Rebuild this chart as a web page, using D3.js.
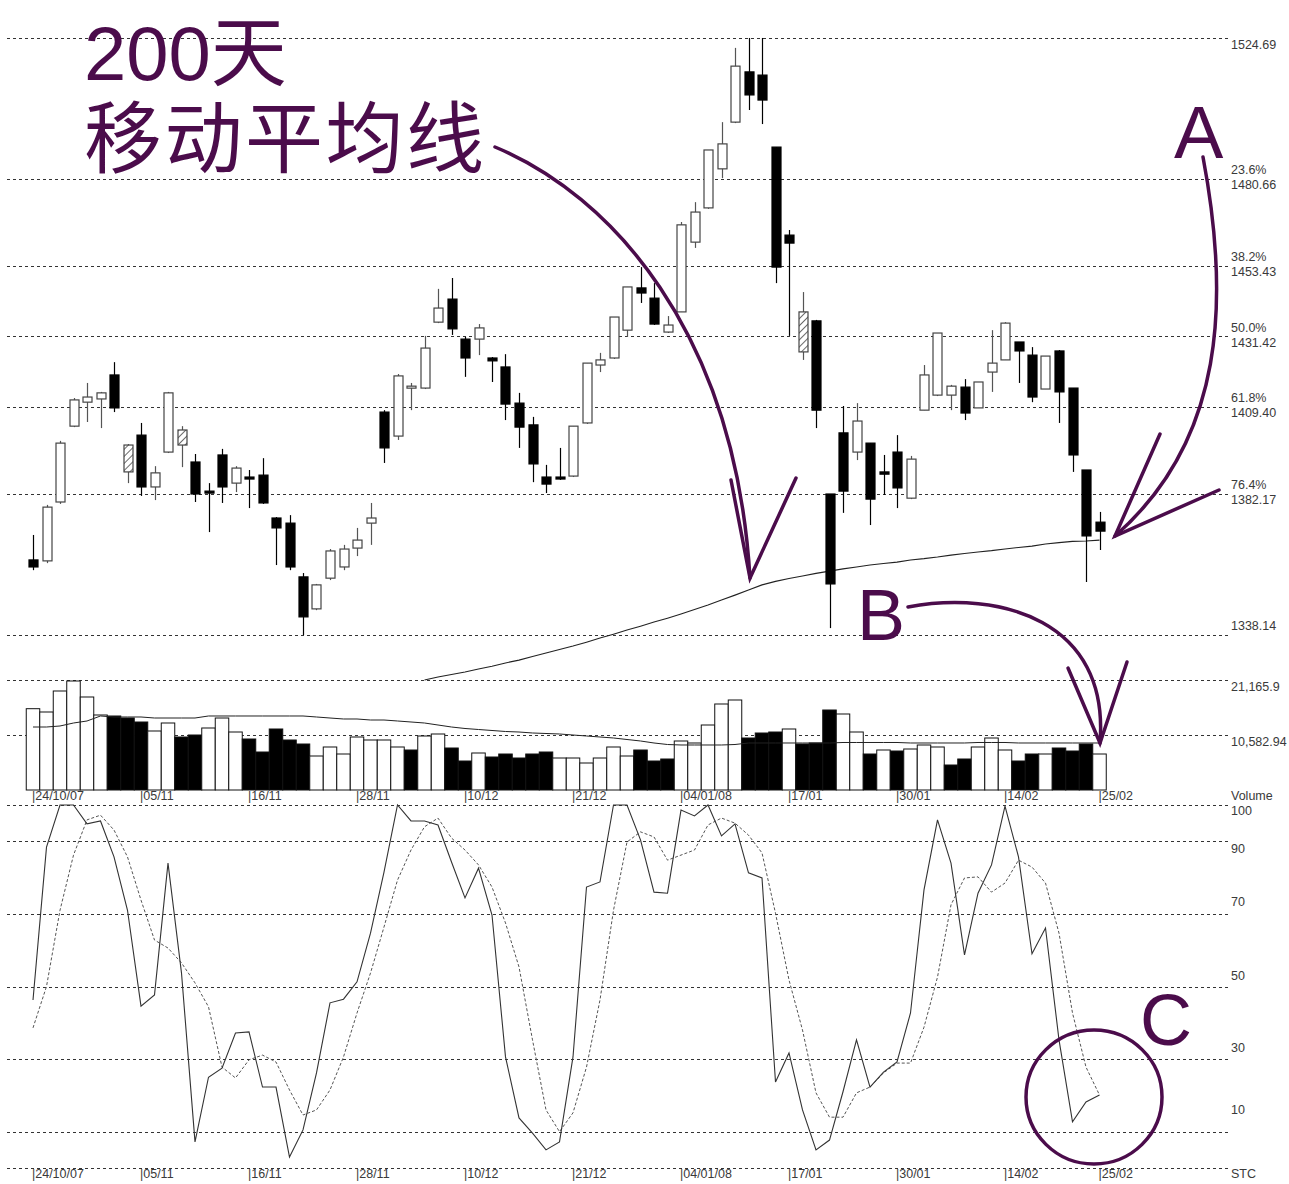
<!DOCTYPE html>
<html><head><meta charset="utf-8">
<script src="https://cdn.jsdelivr.net/npm/d3@7"></script>
<style>body{margin:0;background:#fff}svg{display:block}</style>
</head><body><svg id="c" width="1289" height="1184"></svg>
<script>
// ---------- DATA ----------
const opens = [1361.6,1361.3,1379.7,1403.4,1410.9,1411.9,1419.4,1389.1,1400.6,1384.4,
1395.3,1397.5,1392.2,1383.1,1394.4,1385.6,1387.5,1388.1,1374.7,1373.1,
1356.3,1346.3,1355.9,1359.4,1365.3,1373.1,1407.8,1400.3,1415.3,1415.3,
1435.9,1443.1,1430.6,1430.6,1424.7,1421.9,1410.6,1403.8,1387.5,1387.5,
1387.8,1404.4,1422.5,1424.7,1433.4,1446.6,1443.4,1432.8,1439.1,1460.9,
1471.6,1483.8,1498.4,1514.1,1513.1,1490.6,1463.1,1426.6,1436.3,1382.2,
1401.3,1395.3,1398.1,1389.1,1395.3,1380.9,1408.4,1413.1,1413.1,1415.6,
1409.1,1420.3,1424.1,1429.7,1425.6,1415.0,1426.9,1415.3,1389.7,1373.4];
const highs = [1369.4,1378.8,1398.8,1412.2,1416.9,1414.1,1423.4,1397.8,1404.4,1390.9,
1414.1,1403.4,1394.7,1385.6,1396.3,1390.9,1389.7,1393.4,1375.0,1375.6,
1357.5,1354.1,1365.0,1366.3,1371.6,1379.4,1408.4,1419.7,1416.9,1431.6,
1446.3,1449.7,1431.3,1435.3,1425.0,1425.9,1413.8,1406.3,1391.3,1396.6,
1403.4,1423.1,1426.3,1437.5,1446.9,1453.1,1448.1,1437.8,1467.2,1473.4,
1489.7,1498.4,1521.6,1524.7,1524.7,1490.6,1464.7,1445.3,1436.6,1382.2,
1409.7,1410.6,1398.1,1394.4,1400.6,1394.1,1422.5,1432.5,1416.3,1418.1,
1417.2,1433.4,1435.9,1429.7,1428.1,1425.3,1427.2,1415.3,1389.7,1376.6];
const lows = [1358.4,1360.6,1379.1,1403.1,1404.7,1402.8,1407.8,1385.6,1381.6,1380.3,
1395.0,1390.6,1379.7,1370.3,1379.4,1382.8,1377.8,1379.1,1360.0,1358.4,
1338.1,1345.9,1355.3,1358.4,1362.8,1366.3,1391.9,1399.1,1408.4,1415.0,
1435.6,1431.9,1418.8,1425.6,1417.2,1405.3,1396.6,1385.9,1382.5,1386.6,
1387.5,1404.1,1420.3,1424.4,1431.3,1441.9,1435.0,1432.5,1439.1,1459.1,
1471.3,1480.9,1498.1,1502.2,1497.8,1448.1,1431.6,1424.1,1402.8,1340.3,
1376.3,1392.8,1372.5,1381.9,1377.8,1380.6,1408.4,1412.8,1408.4,1405.3,
1409.1,1414.1,1424.1,1416.9,1410.9,1415.0,1404.4,1389.1,1354.7,1364.7];
const closes = [1359.4,1378.1,1398.1,1411.6,1412.5,1413.8,1409.1,1397.5,1384.4,1388.8,
1413.8,1402.2,1382.2,1382.5,1384.4,1390.3,1386.9,1379.4,1371.6,1359.4,
1343.8,1353.8,1364.4,1365.0,1367.8,1374.7,1396.6,1419.1,1415.9,1427.8,
1440.3,1433.8,1424.7,1434.1,1423.8,1410.3,1403.1,1391.6,1385.3,1386.9,
1403.4,1423.1,1424.1,1437.5,1446.9,1445.0,1435.3,1435.0,1466.3,1470.3,
1489.7,1491.6,1515.9,1506.9,1505.3,1453.1,1460.6,1439.1,1408.4,1354.1,
1383.1,1405.0,1380.6,1388.4,1384.1,1393.1,1419.4,1432.5,1415.9,1407.5,
1417.2,1423.1,1435.6,1426.9,1412.5,1425.3,1414.1,1394.4,1369.1,1370.6];
const hatchedBars = [7, 11, 57];

const ma200Start = 29;
const ma200 = [1324.1,1325.0,1325.8,1326.6,1327.5,1328.4,1329.4,1330.3,1331.4,1332.5,
1333.6,1334.7,1335.9,1337.2,1338.4,1339.7,1340.9,1342.2,1343.4,1344.7,
1346.1,1347.5,1349.1,1350.6,1352.2,1353.8,1354.9,1355.8,1356.6,1357.4,
1358.1,1358.8,1359.4,1360.0,1360.5,1360.9,1361.6,1362.0,1362.5,1363.1,
1363.6,1364.1,1364.5,1365.0,1365.5,1365.9,1366.6,1367.0,1367.4,1367.5,1367.8];

const volumes = [15644,15009,19050,20974,17895,14432,14239,13854,13085,11353,
12892,10198,10583,11930,13854,11160,9813,7312,11738,9621,
8851,6542,8274,6927,10198,9621,9621,8274,7697,10391,
10776,8082,5580,7120,6350,6927,6157,6927,7312,6157,
6157,5195,6157,8274,6542,7697,5580,5965,9429,9044,
12507,16548,17318,10006,10968,11160,11738,8851,9044,15394,
14624,11160,6927,7697,7504,7889,8659,8274,4811,5965,
8274,10006,7697,5580,6927,6927,8082,7504,8851,6927];
const volUp = [1,1,1,1,1,1,0,0,0,1, 1,0,0,1,1,1,0,0,0,0, 0,1,1,1,1,1,1,1,0,1,
1,0,0,1,0,0,0,0,0,1, 1,1,1,1,1,0,0,0,1,1, 1,1,1,0,0,0,1,0,0,0,
1,1,0,1,0,1,1,1,0,0, 1,1,1,0,0,1,0,0,0,1];
const volMA = [12122,12122,12315,12892,13277,14239,14047,14047,14047,13854,
13854,13854,13854,14239,14239,14239,14239,14239,14239,14239,
14239,14047,13854,13662,13662,13469,13469,13277,13085,12892,
12507,12122,11834,11641,11449,11257,11160,10968,10872,10776,
10583,10391,10198,10006,9717,9429,9044,8755,8659,8659,
8659,8659,8755,9044,9044,9044,9044,9044,9044,9044,
9140,9140,9140,9140,9140,9044,9044,9044,9044,9044,
9140,9140,9140,9044,9044,9044,9044,9044,9044,9044];

const stcK = [46.3,88.4,100,100,94.8,95.6,85.7,71,44.6,47.7,
84,53.7,7.2,25,27.5,37.2,37.5,22.3,22.3,3,
10.5,26.2,45.5,46.5,51.3,64.7,81.5,100,95.6,95.6,
94.5,84.3,74.4,82.6,69.7,30.6,13.8,9.6,5,7.2,
30.6,77.4,78.8,100,100,90.4,76,75.7,98.6,97,
100,91.5,94.8,81.3,79.9,23.7,31.7,16,5,7.7,
21,35.3,22.3,26.4,29.2,42.7,76.6,95.9,84,58.7,
75.7,83.5,99.7,85.7,59,66.1,35.3,12.7,18.2,20.1];
const stcD = [38.6,50,71,86.2,95.9,97.2,93.1,85.7,73.8,62.8,
60.6,56.5,51,44.4,27.8,24.8,29.8,31.1,29.2,21.5,
14.6,16,21.5,30.6,42.7,53.7,66.4,79.3,87.6,94,
96.4,90.9,87.6,83.5,77.4,67.5,55.4,35.3,16,10,
15.2,27.8,46.3,71,89.8,92.6,91.2,84.8,86.2,87.6,
94.5,96.4,95,91.7,86.8,70.2,51.8,38,20.7,14,
14,20.7,22.3,26.2,28.9,28.9,38.8,52.6,72.5,79.9,
80.2,76,78.5,84.8,82.9,78.5,64.7,42.7,27.8,20.1];

const dateTickIdx = [0,8,16,24,32,40,48,56,64,72,79];
const dateTickLabels = ["24/10/07","05/11","16/11","28/11","10/12","21/12","04/01/08","17/01","30/01","14/02","25/02"];
const priceLevels = [1524.69,1480.66,1453.43,1431.42,1409.40,1382.17,1338.14];
const fibLabels = ["","23.6%","38.2%","50.0%","61.8%","76.4%",""];
const volTicks = [21165.9,10582.94];
const volTickLabels = ["21,165.9","10,582.94"];
const stcTicks = [100,90,70,50,30,10,0];
const stcTickLabels = ["100","90","70","50","30","10",""];
const titleLines = ["200天","移动平均线"];

// ---------- DRAW ----------
const svg = d3.select('#c');
const n = closes.length;
const x = d3.scaleLinear().domain([0, n-1]).range([33, 1099.5]);
const yP = d3.scaleLinear().domain([1338.14, 1524.69]).range([635, 38]);
const yV = d3.scaleLinear().domain([0, 21165.9]).range([790, 680]);
const yS = d3.scaleLinear().domain([0, 100]).range([1168, 805]);
const slot = x(1) - x(0);
const GX0 = 7, GX1 = 1228, LX = 1231;
const txtFont = '"Liberation Sans", Arial, sans-serif';
const purple = '#4b0c4b';

const defs = svg.append('defs');
const pat = defs.append('pattern').attr('id','hatch').attr('patternUnits','userSpaceOnUse')
  .attr('width',5).attr('height',5).attr('patternTransform','rotate(45)');
pat.append('rect').attr('width',5).attr('height',5).attr('fill','#fff');
pat.append('line').attr('x1',0).attr('y1',0).attr('x2',0).attr('y2',5).attr('stroke','#444').attr('stroke-width',1.6);

const grid = svg.append('g');
function hline(y){
  const yy = Math.round(y) + 0.5;
  grid.append('line').attr('x1',GX0).attr('x2',GX1).attr('y1',yy).attr('y2',yy)
    .attr('stroke','#333').attr('stroke-width',1).attr('stroke-dasharray','3,3');
}
const labels = svg.append('g').attr('font-family',txtFont).attr('font-size',12.5).attr('fill','#3a3a3a');
function label(t, xx, y){
  labels.append('text').attr('x',xx).attr('y',y).attr('dominant-baseline','middle').text(t);
}

// price grid + labels
const fmt2 = d3.format('.2f');
priceLevels.forEach((v,i)=>{
  const y = yP(v);
  hline(y);
  if (fibLabels[i]) { label(fibLabels[i], LX, y-8); label(fmt2(v), LX, y+7); }
  else if (i === priceLevels.length-1) label(fmt2(v), LX, y-8);
  else label(fmt2(v), LX, y+8);
});
// volume grid + labels
volTicks.forEach((v,i)=>{ const y=yV(v); hline(y); label(volTickLabels[i], LX, y+8); });
label('Volume', LX, yV(0)+7);
// stc grid + labels
const stcLabelOffset = [7,8,-11,-10,-10,-21,0];
stcTicks.forEach((v,i)=>{ const y=yS(v); hline(y); if(stcTickLabels[i]) label(stcTickLabels[i], LX, y+stcLabelOffset[i]); });
label('STC', LX, yS(0)+7);

// date labels (two rows)
dateTickIdx.forEach((idx,i)=>{
  label('|'+dateTickLabels[i], x(idx)-1, yV(0)+7);
  label('|'+dateTickLabels[i], x(idx)-1, yS(0)+7);
});

// volume bars
svg.append('g').selectAll('rect').data(volumes).join('rect')
  .attr('x',(d,i)=>x(i)-slot/2).attr('width',slot)
  .attr('y',d=>yV(d)).attr('height',d=>yV(0)-yV(d))
  .attr('fill',(d,i)=>volUp[i]?'#fff':'#000')
  .attr('stroke','#111').attr('stroke-width',1);
// volume MA
svg.append('path').datum(volMA)
  .attr('d', d3.line().x((d,i)=>x(i)).y(d=>yV(d)))
  .attr('fill','none').attr('stroke','#222').attr('stroke-width',1);

// 200-day MA
svg.append('path').datum(ma200)
  .attr('d', d3.line().x((d,i)=>x(i+ma200Start)).y(d=>yP(d)))
  .attr('fill','none').attr('stroke','#222').attr('stroke-width',1.1);

// candlesticks
const bw = 9;
const cg = svg.append('g');
for (let i=0;i<n;i++){
  const up = closes[i] >= opens[i];
  const cx = Math.round(x(i)) + 0.5;
  cg.append('line').attr('x1',cx).attr('x2',cx).attr('y1',yP(highs[i])).attr('y2',yP(lows[i]))
    .attr('stroke', up ? '#555' : '#000').attr('stroke-width',1.2);
  const top = yP(Math.max(opens[i],closes[i])), bot = yP(Math.min(opens[i],closes[i]));
  const h = Math.max(bot-top, 2);
  const hatch = hatchedBars.includes(i);
  cg.append('rect').attr('x',cx-bw/2).attr('y',top).attr('width',bw).attr('height',h)
    .attr('fill', hatch ? 'url(#hatch)' : (up ? '#fff' : '#000'))
    .attr('stroke', up ? '#444' : '#000').attr('stroke-width',1.2);
}

// stochastic
svg.append('path').datum(stcD)
  .attr('d', d3.line().x((d,i)=>x(i)).y(d=>yS(d)))
  .attr('fill','none').attr('stroke','#555').attr('stroke-width',1).attr('stroke-dasharray','3,2');
svg.append('path').datum(stcK)
  .attr('d', d3.line().x((d,i)=>x(i)).y(d=>yS(d)))
  .attr('fill','none').attr('stroke','#333').attr('stroke-width',1.1);

// ---------- ANNOTATIONS ----------
const ann = svg.append('g').attr('fill','none').attr('stroke',purple).attr('stroke-width',3.5).attr('stroke-linecap','round');
ann.append('path').attr('d','M495,147 C610,195 735,330 750,578');
ann.append('path').attr('d','M731,480 L750,578 L796,478');
ann.append('path').attr('d','M1203,157 C1230,300 1225,440 1115,536');
ann.append('path').attr('d','M1160,434 L1115,536 L1219,490');
ann.append('path').attr('d','M908,607 C1000,590 1110,620 1100,743');
ann.append('path').attr('d','M1068,668 L1100,743 L1127,662');
ann.append('ellipse').attr('cx',1094).attr('cy',1097).attr('rx',68).attr('ry',67);

const at = svg.append('g').attr('fill',purple);
const titleFont = '"Liberation Sans", "Noto Sans CJK SC", sans-serif';
at.append('text').attr('x',84).attr('y',80).attr('font-family',titleFont).attr('font-size',76).text(titleLines[0]);
at.append('text').attr('x',84).attr('y',167).attr('font-family',titleFont).attr('font-size',78)
  .attr('letter-spacing',2.5).text(titleLines[1]);
at.append('text').attr('x',1174).attr('y',158).attr('font-family',txtFont).attr('font-size',74).text('A');
at.append('text').attr('x',857).attr('y',640).attr('font-family',txtFont).attr('font-size',72).text('B');
at.append('text').attr('x',1140).attr('y',1045).attr('font-family',txtFont).attr('font-size',72).text('C');
</script></body></html>
